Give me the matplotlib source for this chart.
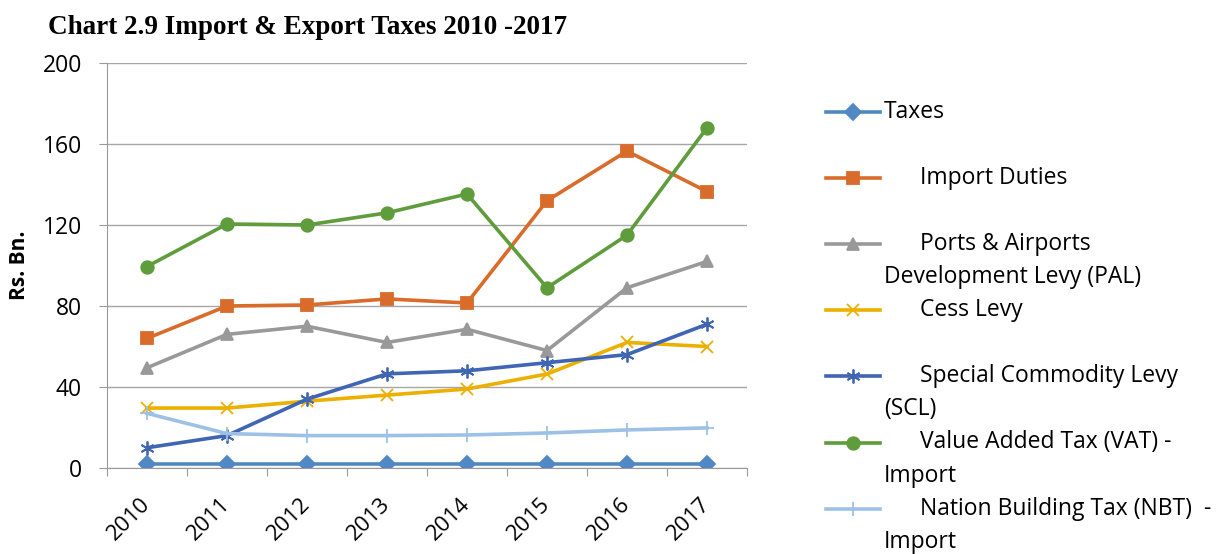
import matplotlib.pyplot as plt

# data (Rs. Bn.)
years = ['2010', '2011', '2012', '2013', '2014', '2015', '2016', '2017']
taxes = [2, 2, 2, 2, 2, 2, 2, 2]
import_duties = [64, 80, 80.5, 83.5, 81.5, 132, 156.5, 136.5]
pal = [49.5, 66, 70, 62, 68.5, 58, 89, 102]
cess = [29.6, 29.6, 33, 36, 39, 46.4, 62, 60]
scl = [10, 16, 34, 46.5, 48, 52, 56, 71]
vat = [99.5, 120.5, 120, 126, 135.3, 89, 115, 168]
nbt = [27, 17, 16, 16, 16.3, 17.3, 18.8, 19.8]

labels = ['Taxes',
          '      Import Duties',
          '      Ports & Airports\nDevelopment Levy (PAL)',
          '      Cess Levy',
          '      Special Commodity Levy\n(SCL)',
          '      Value Added Tax (VAT) -\nImport',
          '      Nation Building Tax (NBT)  -\nImport']

series = [taxes, import_duties, pal, cess, scl, vat, nbt]
colors = ['#4F88C2', '#D96B2B', '#999999', '#EBB000', '#3F65B3', '#5E9C3C', '#9DC1E6']
markers = ['D', 's', '^', 'x', (6, 2, 0), 'o', '+']
msizes = [8, 9, 9, 9, 10, 9, 10]

plt.rcParams['font.family'] = ['Open Sans', 'DejaVu Sans']

fig = plt.figure(figsize=(12.2, 5.54), dpi=100)
ax = fig.add_axes([107 / 1220, 1 - 468 / 554, 640 / 1220, 405 / 554])

x = range(len(years))
for s, c, m, ms in zip(series, colors, markers, msizes):
    ax.plot(x, s, color=c, lw=2.6, marker=m, ms=ms, mew=1.3, mec=c, mfc=c)

ax.set_ylim(0, 200)
ax.set_yticks(range(0, 201, 40))
ax.set_xlim(-0.5, len(years) - 0.5)
ax.set_xticks([i - 0.5 for i in range(len(years) + 1)])
ax.set_xticklabels([])
ax.set_xticks(list(x), minor=True)
ax.set_xticklabels(years, minor=True, rotation=45, ha='right', va='center',
                   rotation_mode='anchor', fontsize=16)
ax.tick_params(axis='x', which='minor', length=0, pad=24)
ax.tick_params(axis='x', which='major', length=6, color='#999999')
ax.tick_params(axis='y', length=6, color='#999999', labelsize=16.5, pad=12)
ax.grid(axis='y', color='#A6A6A6', lw=1)
ax.set_axisbelow(True)
for sp in ['top', 'right']:
    ax.spines[sp].set_visible(False)
for sp in ['left', 'bottom']:
    ax.spines[sp].set_color('#999999')

ax.set_ylabel('Rs. Bn.', fontsize=15, fontweight='bold')
ax.yaxis.set_label_coords(-0.12, 0.5)

fig.text(48 / 1220, 1 - 27 / 554, 'Chart 2.9 Import & Export Taxes 2010 -2017',
         family='Liberation Serif', fontweight='bold', fontsize=19.5, va='center')

# legend drawn in its own axes, handle level with first text line
lax = fig.add_axes([0, 0, 1, 1])
lax.set_xlim(0, 1220)
lax.set_ylim(554, 0)
lax.axis('off')
for i, (lab, c, m, ms) in enumerate(zip(labels, colors, markers, msizes)):
    y = 112 + i * 66.1
    lax.plot([826, 853, 880], [y, y, y], color=c, lw=2.6, marker=m, ms=ms,
             mew=1.3, mec=c, mfc=c, markevery=[1])
    for k, line in enumerate(lab.split('\n')):
        lax.text(884, y + k * 33, line, fontsize=16.5, va='center')

fig.savefig('out.png', dpi=100)
